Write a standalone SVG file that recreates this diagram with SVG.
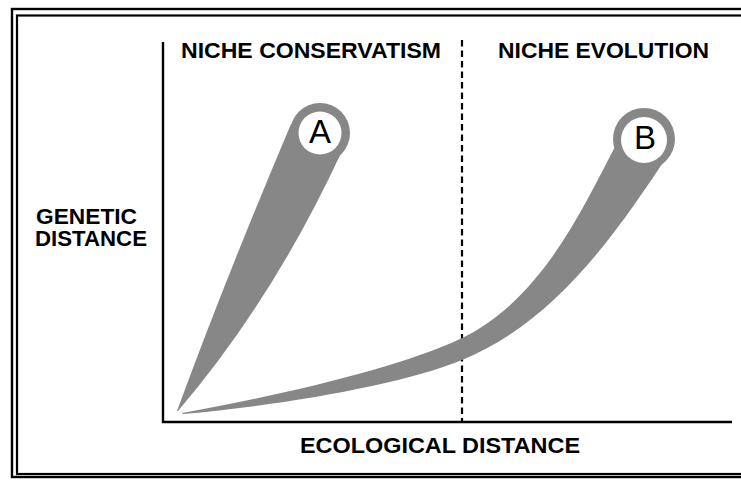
<svg xmlns="http://www.w3.org/2000/svg" width="741" height="480" viewBox="0 0 741 480">
<style>
.lbl{font-family:"Liberation Sans",Arial,sans-serif;font-weight:bold;font-size:21.5px;fill:#000}
.let{font-family:"Liberation Sans",Arial,sans-serif;font-size:33px;fill:#000;text-anchor:middle}
.band{fill:#878787}
.frame{fill:none;stroke:#000}
</style>
<rect width="741" height="480" fill="#fff"/>
<g id="frame">
<rect class="frame" x="12" y="9" width="740" height="468" stroke-width="2.4"/>
<rect class="frame" x="17" y="15.5" width="730" height="458.5" stroke-width="2.2"/>
</g>
<g id="axes">
<line x1="163" y1="42" x2="163" y2="423" stroke="#000" stroke-width="2.4"/>
<line x1="162" y1="422" x2="732" y2="422" stroke="#000" stroke-width="2.4"/>
<line x1="462" y1="40" x2="462" y2="421" stroke="#000" stroke-width="2.2" stroke-dasharray="6.5 4"/>
</g>
<g id="nodeA">
<path class="band" d="M177,411 Q225,280 291,124 L320,133 L342,151 Q273,300 178,411 Z"/>
<circle class="band" cx="320" cy="133" r="30"/>
<circle cx="320" cy="133" r="21.5" fill="#fff"/>
<text class="let" x="320" y="142.5">A</text>
</g>
<g id="nodeB">
<path class="band" d="M182,413 C273,397 402,367.4 462,338 C542,299 582,209.5 617,143 L644,140 L670,152 C617,232 557,321 462,360 C402,384.6 282,405.4 183,414 Z"/>
<circle class="band" cx="644" cy="139" r="31"/>
<circle cx="644" cy="140" r="23" fill="#fff"/>
<text class="let" x="645" y="149">B</text>
</g>
<g id="labels">
<text class="lbl" x="181" y="58" textLength="260" lengthAdjust="spacingAndGlyphs">NICHE CONSERVATISM</text>
<text class="lbl" x="498" y="58" textLength="211" lengthAdjust="spacingAndGlyphs">NICHE EVOLUTION</text>
<text class="lbl" x="36" y="223.5" textLength="101" lengthAdjust="spacingAndGlyphs">GENETIC</text>
<text class="lbl" x="35" y="246" textLength="112" lengthAdjust="spacingAndGlyphs">DISTANCE</text>
<text class="lbl" x="300" y="453" textLength="280" lengthAdjust="spacingAndGlyphs">ECOLOGICAL  DISTANCE</text>
</g>
</svg>
